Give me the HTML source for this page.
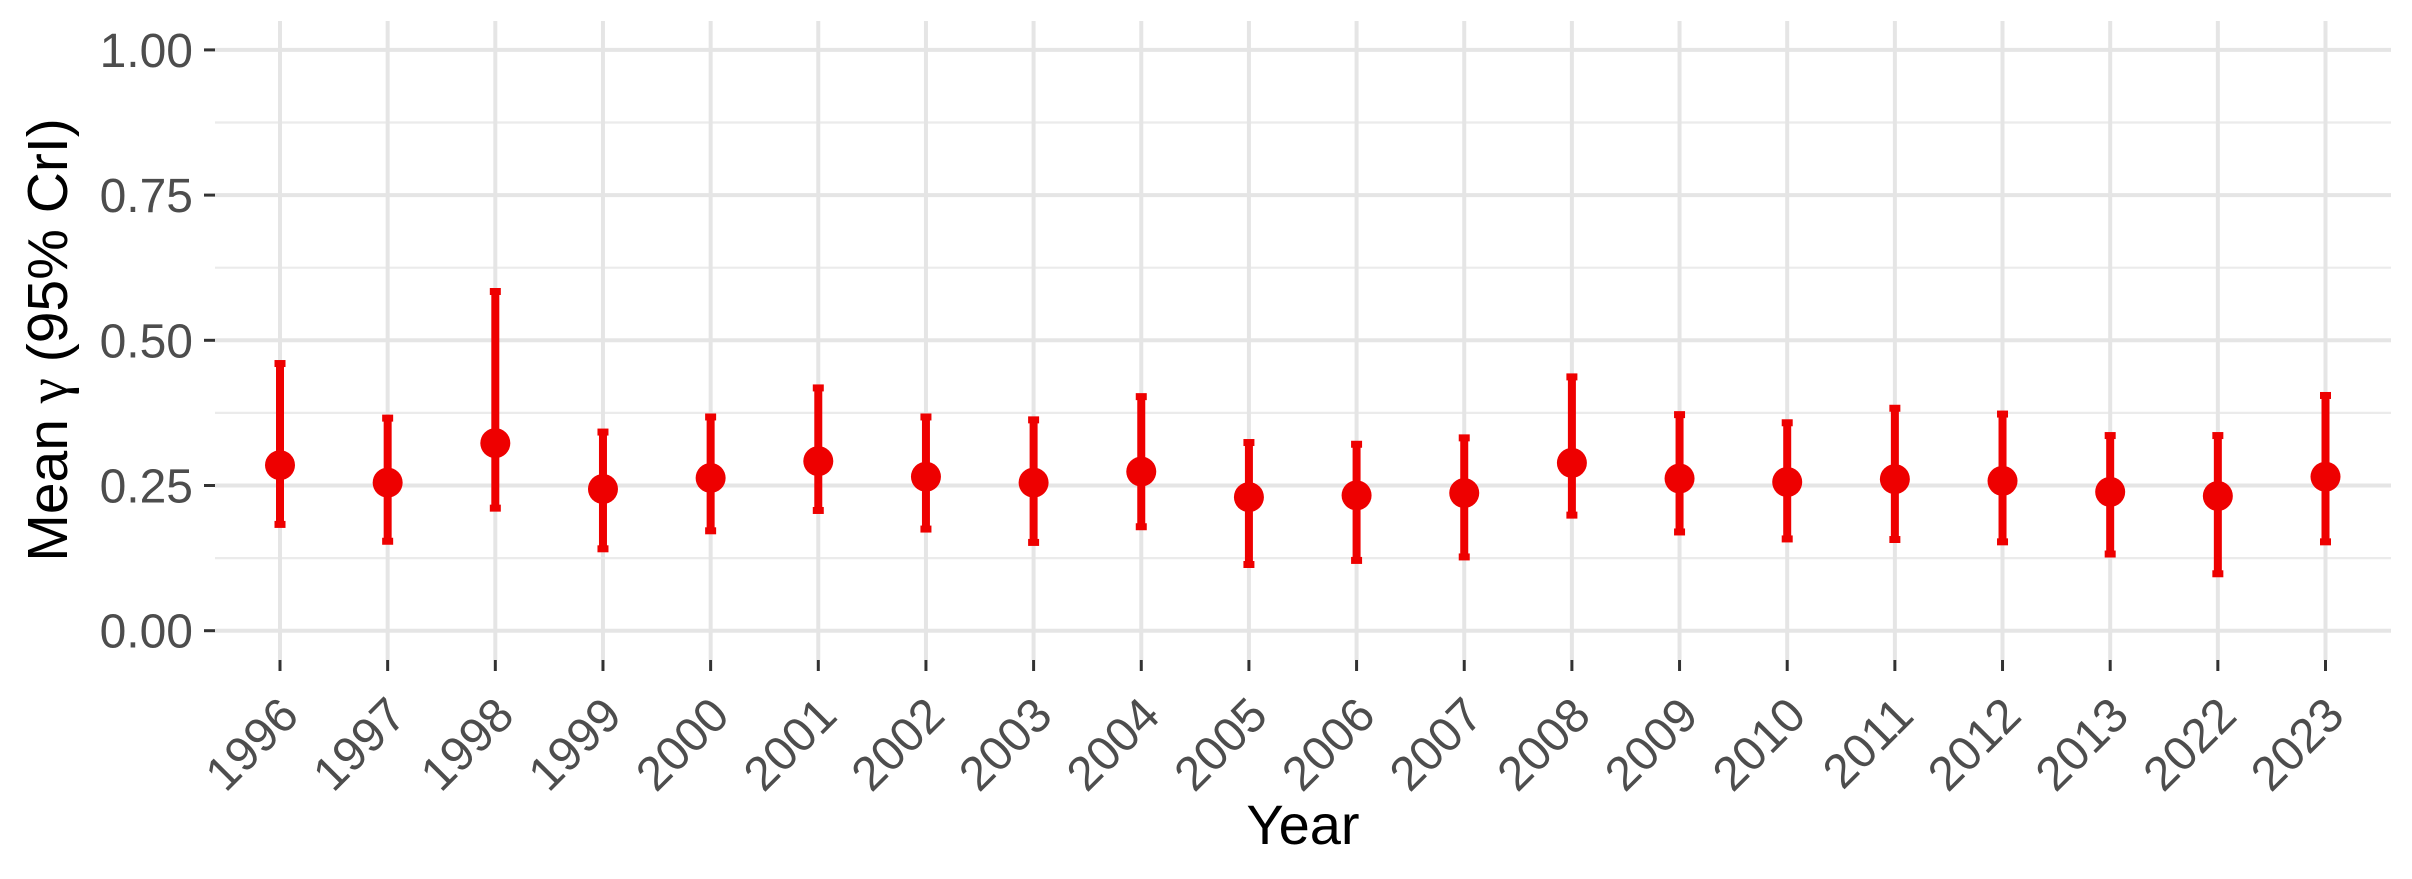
<!DOCTYPE html>
<html><head><meta charset="utf-8"><style>
html,body{margin:0;padding:0;background:#fff;}
svg{display:block;}
text{font-family:"Liberation Sans",sans-serif;}
</style></head><body>
<svg id="chart" width="2412" height="879" viewBox="0 0 2412 879" xmlns="http://www.w3.org/2000/svg">
<g id="grid"></g>
<g id="axes"></g>
<g id="marks"></g>
<text x="1303" y="844" font-size="56" text-anchor="middle" fill="#000">Year</text>
<text transform="translate(67,340) rotate(-90)" font-size="57" text-anchor="middle" fill="#000">Mean <tspan font-family="Liberation Serif, serif">γ</tspan> (95% CrI)</text>
</svg>
<script>
const categories = ["1996","1997","1998","1999","2000","2001","2002","2003","2004","2005","2006","2007","2008","2009","2010","2011","2012","2013","2022","2023"];
const means = [0.285,0.255,0.323,0.244,0.263,0.292,0.265,0.255,0.274,0.230,0.233,0.237,0.289,0.262,0.256,0.261,0.258,0.239,0.232,0.265];
const upper = [0.460,0.366,0.584,0.342,0.368,0.418,0.368,0.363,0.403,0.324,0.321,0.332,0.437,0.372,0.358,0.383,0.373,0.336,0.336,0.405];
const lower = [0.183,0.154,0.211,0.141,0.172,0.207,0.175,0.152,0.179,0.114,0.121,0.127,0.199,0.170,0.158,0.157,0.153,0.132,0.098,0.153];
const yTicks = [0,0.25,0.5,0.75,1];
const yTickLabels = ["0.00","0.25","0.50","0.75","1.00"];
const yMinor = [0.125,0.375,0.625,0.875];

const NS="http://www.w3.org/2000/svg";
const PL=215, PR=2391, PT=21, PB=660;
const X0=280, XSTEP=(2325.5-280)/19;
function xs(i){return X0+i*XSTEP;}
function ys(v){return 630.7 - v*580.8;}
function mk(tag, attrs, parent){const e=document.createElementNS(NS,tag);for(const k in attrs)e.setAttribute(k,attrs[k]);parent.appendChild(e);return e;}
const grid=document.getElementById('grid'), axes=document.getElementById('axes'), marks=document.getElementById('marks');

yMinor.forEach(v=>{
  const l=mk('line',{x1:PL,x2:PR,y1:ys(v),y2:ys(v),stroke:'#ebebeb','stroke-width':2.2},grid);
  
  
});
yTicks.forEach((v,i)=>{
  const l=mk('line',{x1:PL,x2:PR,y1:ys(v),y2:ys(v),stroke:'#e5e5e5','stroke-width':4},grid);
  
  
  const t=mk('line',{x1:204,x2:215,y1:ys(v),y2:ys(v),stroke:'#333','stroke-width':3},axes);
  
  
  const tx=mk('text',{x:193,y:ys(v)+17,'font-size':48,'text-anchor':'end',fill:'#4d4d4d'},axes);
  tx.textContent=yTickLabels[i];
  
  
});
categories.forEach((c,i)=>{
  const x=xs(i);
  const g=mk('line',{x1:x,x2:x,y1:PT,y2:PB,stroke:'#e5e5e5','stroke-width':4},grid);
  
  
  const t=mk('line',{x1:x,x2:x,y1:660,y2:671,stroke:'#333','stroke-width':3},axes);
  
  
  const tx=mk('text',{transform:`translate(${x+21},${718}) rotate(-45)`,'font-size':48,'text-anchor':'end',fill:'#4d4d4d'},axes);
  tx.textContent=c;
  
  
  const bar=mk('line',{x1:x,x2:x,y1:ys(upper[i]),y2:ys(lower[i]),stroke:'#ee0000','stroke-width':8},marks);
  
  
  const cu=mk('line',{x1:x-5.5,x2:x+5.5,y1:ys(upper[i]),y2:ys(upper[i]),stroke:'#ee0000','stroke-width':7},marks);
  
  
  const cl=mk('line',{x1:x-5.5,x2:x+5.5,y1:ys(lower[i]),y2:ys(lower[i]),stroke:'#ee0000','stroke-width':7},marks);
  
  
  const p=mk('circle',{cx:x,cy:ys(means[i]),r:15,fill:'#ee0000'},marks);
  
  
});
</script>
</body></html>
